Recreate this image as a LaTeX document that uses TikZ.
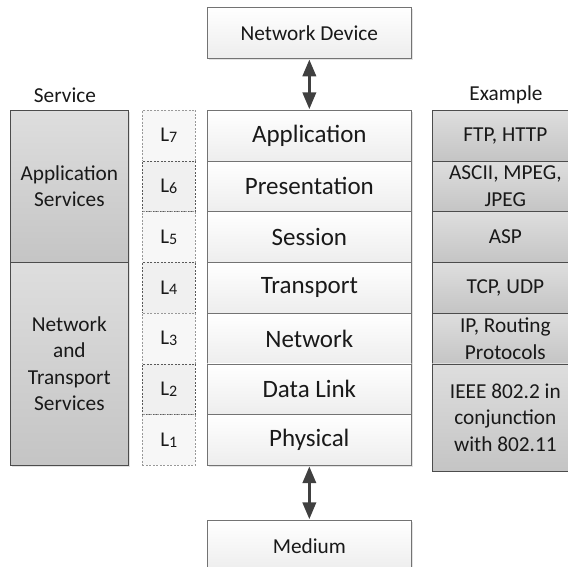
\documentclass[tikz,border=0pt]{standalone}
\usepackage{fontspec}
\setmainfont{Carlito}
\usetikzlibrary{shadows,arrows.meta}
\newcommand\Lsub[2]{#1\raisebox{-0.9pt}{\fontsize{16}{16}\selectfont #2}}
\begin{document}
\begin{tikzpicture}[x=1pt,y=-1pt,
  shade/.style={drop shadow={shadow xshift=1.6pt,shadow yshift=-1.6pt,opacity=0.22,fill=black!50}},
  layerbox/.style={draw=black!55,line width=0.7pt,top color=white,bottom color=black!7,
    minimum width=204pt,minimum height=50.7pt,inner sep=0pt,anchor=north west,
    font=\fontsize{25}{30}\selectfont,text=black!90,shade},
  endbox/.style={layerbox,font=\fontsize{21.3}{26}\selectfont,minimum height=51pt},
  lbox/.style={dashed,dash pattern=on 2pt off 1.5pt,line width=0.6pt,
    minimum width=53pt,minimum height=50.7pt,inner sep=0pt,anchor=north west,
    font=\fontsize{21}{24}\selectfont,text=black!90},
  lboxa/.style={lbox,draw=black!40,fill=black!3},
  lboxb/.style={lbox,draw=black!65,fill=black!6},
  greybox/.style={draw=black!70,line width=0.7pt,top color=black!13,bottom color=black!23,
    inner sep=0pt,anchor=north west,align=center,
    font=\fontsize{21.3}{26.5}\selectfont,text=black!90,shade},
  svcbox/.style={greybox,minimum width=118pt},
  exbox/.style={greybox,minimum width=146pt,minimum height=50.7pt},
  caption/.style={font=\fontsize{21.3}{26}\selectfont,text=black!90,inner sep=0pt},
  link/.style={draw=black!75,line width=3.6pt,
    {Triangle[width=13pt,length=17pt]}-{Triangle[width=13pt,length=17pt]},shorten <=0.6pt,shorten >=0.6pt}
]
\useasboundingbox (0,0) rectangle (568,567);
\clip (0,0) rectangle (568,567);

% middle stack
\node[endbox] (dev) at (207,7) {Network Device};
\node[layerbox] (app) at (207,110) {Application};
\node[layerbox] (pre) at (207,160.7) {Presentation};
\node[layerbox] (ses) at (207,211.4) {Session};
\node[layerbox] (tra) at (207,262.1) {Transport};
\node[layerbox] (net) at (207,312.8) {Network};
\node[layerbox] (dat) at (207,363.5) {Data Link};
\node[layerbox] (phy) at (207,414.2) {Physical};
\node[endbox] (med) at (207,520) {Medium};

\path[link] (dev.south) -- (app.north);
\path[link] (phy.south) -- (med.north);

% layer numbers
\node[lboxa] (l7) at (142,110) {\Lsub{L}{7}};
\node[lboxb] (l6) at (142,160.7) {\Lsub{L}{6}};
\node[lboxa] (l5) at (142,211.4) {\Lsub{L}{5}};
\node[lboxb] (l4) at (142,262.1) {\Lsub{L}{4}};
\node[lboxa] (l3) at (142,312.8) {\Lsub{L}{3}};
\node[lboxb] (l2) at (142,363.5) {\Lsub{L}{2}};
\node[lboxa] (l1) at (142,414.2) {\Lsub{L}{1}};

% services
\node[caption] (svc) at (65,95) {Service};
\node[svcbox,minimum height=152.1pt] (appsvc) at (10,110) {Application\\Services};
\node[svcbox,minimum height=202.9pt] (netsvc) at (10,262.1) {Network\\and\\Transport\\Services};

% examples
\node[caption] (exm) at (506,95) {Example};
\node[exbox] (e7) at (432,110) {FTP, HTTP};
\node[exbox] (e6) at (432,160.7) {ASCII, MPEG,\\JPEG};
\node[exbox] (e5) at (432,211.4) {ASP};
\node[exbox] (e4) at (432,262.1) {TCP, UDP};
\node[exbox] (e3) at (432,312.8) {IP, Routing\\Protocols};
\node[exbox,minimum height=107pt] (e2) at (432,363.5) {IEEE 802.2 in\\conjunction\\with 802.11};
\end{tikzpicture}
\end{document}
